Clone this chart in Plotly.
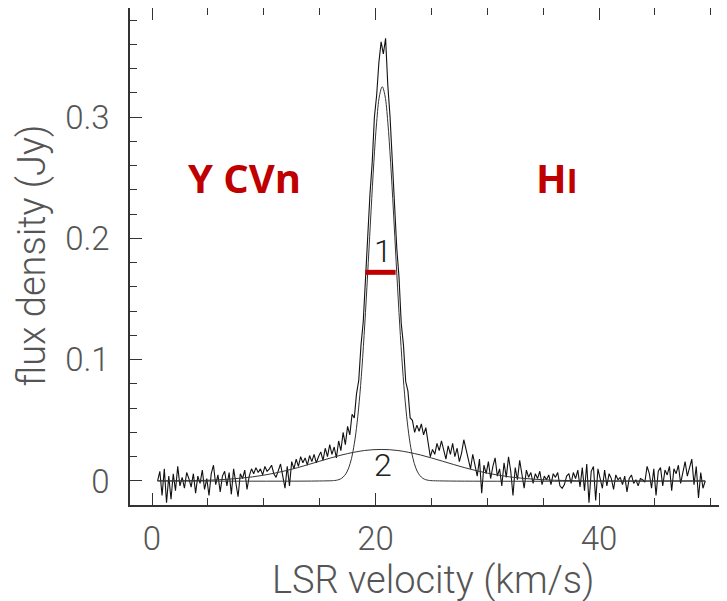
import plotly.graph_objects as go

# ---- spectrum (LSR velocity grid: start + step * channel) ----
v_start = 0.5
v_step = 0.2
flux = [
    0.000, 0.008, -0.012, 0.010, -0.018, 0.004, -0.015, 0.006, -0.008, 0.012,
    -0.004, 0.003, -0.006, 0.007, 0.002, -0.005, 0.006, -0.010, 0.004, -0.002,
    0.009, -0.007, 0.002, -0.012, 0.006, 0.013, -0.003, 0.005, -0.009, 0.004,
    0.008, -0.004, 0.007, -0.011, 0.010, -0.002, -0.013, 0.006, 0.002, 0.009,
    -0.007, 0.004, 0.010, 0.006, 0.011, 0.007, 0.010, 0.005,
    0.012, 0.008, 0.010, 0.013, 0.006, 0.003, 0.009, 0.014, 0.004, -0.006,
    0.012, -0.004, 0.016, 0.010, 0.018, 0.012, 0.020, 0.015, 0.019, 0.013,
    0.021, 0.016, 0.022, 0.015, 0.020,
    0.024, 0.017, 0.027, 0.020, 0.030, 0.022, 0.028, 0.019, 0.033, 0.025,
    0.040, 0.030, 0.045, 0.038, 0.055,
    0.052, 0.072, 0.083, 0.112, 0.131, 0.168, 0.193, 0.236, 0.262, 0.300,
    0.318, 0.345, 0.362, 0.352, 0.365, 0.326, 0.300, 0.262, 0.236, 0.192,
    0.168, 0.130, 0.112, 0.082, 0.074, 0.052, 0.050, 0.040,
    0.046, 0.041, 0.047, 0.038, 0.044, 0.030, 0.020, 0.026, 0.022, 0.031,
    0.025, 0.033, 0.024, 0.018, 0.029, 0.022, 0.031, 0.020, 0.027, 0.016,
    0.023, 0.034, 0.026, 0.019, 0.010, 0.022, 0.014, 0.004, 0.018, -0.010,
    0.013, 0.006, 0.016, 0.002, 0.012, 0.019, 0.004, 0.010, -0.004, 0.015,
    0.003, 0.020, 0.008, -0.012, 0.011, 0.001, 0.017, 0.004, -0.006, 0.009,
    0.003, 0.007, -0.002, 0.006, 0.002, 0.008, -0.003, 0.004, 0.001,
    0.005, -0.003, 0.006, 0.003, 0.007, -0.004, -0.006, -0.003, 0.004, 0.006,
    -0.002, 0.007, 0.002, 0.009, -0.005, 0.011, -0.008, 0.014, -0.018, 0.008,
    0.012, -0.016, 0.010, 0.003, -0.006, 0.009, -0.004, 0.006, 0.002, -0.007,
    0.005, 0.001, 0.003, -0.003, 0.004, -0.009, 0.002, 0.005, -0.002, 0.001,
    -0.004, 0.002, 0.001, -0.001, 0.012, 0.006, -0.006, 0.010, -0.012, 0.008,
    0.011, -0.004, 0.009, 0.005, 0.012, -0.008, 0.010, 0.006, 0.013, -0.002,
    0.008, 0.016, 0.004, 0.010, 0.018, -0.003, 0.012, -0.014, 0.007, -0.006,
    0.000,
]
velocity = [round(v_start + v_step * i, 2) for i in range(len(flux))]

# ---- fitted component 1 (narrow) ----
comp1_v = [0.5, 15.0, 16.35, 16.6, 16.85, 17.1, 17.35, 17.6, 17.85, 18.1, 18.35,
           18.6, 18.85, 19.1, 19.35, 19.6, 19.85, 20.1, 20.35, 20.6, 20.85,
           21.1, 21.35, 21.6, 21.85, 22.1, 22.35, 22.6, 22.85, 23.1, 23.35,
           23.6, 23.85, 24.1, 24.35, 24.6, 24.85, 26.2, 49.5]
comp1_f = [0.0, 0.0, 0.0004, 0.0008, 0.0016, 0.0032, 0.0060, 0.0108, 0.0186,
           0.0306, 0.0479, 0.0715, 0.1019, 0.1388, 0.1800, 0.2226, 0.2627,
           0.2957, 0.3174, 0.325, 0.3174, 0.2957, 0.2627, 0.2226, 0.1800,
           0.1388, 0.1019, 0.0715, 0.0479, 0.0306, 0.0186, 0.0108, 0.0060,
           0.0032, 0.0016, 0.0008, 0.0004, 0.0, 0.0]

# ---- fitted component 2 (broad) ----
comp2_v = [0.5, 3, 5, 7, 9, 11, 13, 15, 17, 19, 20.5, 22, 24, 26, 28, 30, 32,
           34, 36, 38, 40, 43, 49.5]
comp2_f = [0.0001, 0.0002, 0.0006, 0.0016, 0.0034, 0.0065, 0.0109, 0.0163,
           0.0215, 0.0251, 0.026, 0.0251, 0.0215, 0.0163, 0.0109, 0.0065,
           0.0034, 0.0016, 0.0006, 0.0002, 0.0001, 0.0, 0.0]

# ---- labels ----
x_title = "LSR velocity (km/s)"
y_title = "flux density (Jy)"
star_name = "Y CVn"
line_name = "H<span style='font-size:34px'>I</span>"
comp_labels = ["1", "2"]
comp_label_v = [20.66, 20.66]
comp_label_f = [0.190, 0.013]
bar_v = [19.1, 21.8]
bar_f = 0.172

RED = "#C00000"
GREY = "#555555"
AX = "#333333"

fig = go.Figure()
fig.add_trace(go.Scatter(x=velocity, y=flux, mode="lines",
                         line=dict(color="#111111", width=1.1), hoverinfo="skip"))
fig.add_trace(go.Scatter(x=comp1_v, y=comp1_f, mode="lines", line_shape="spline",
                         line=dict(color="#333333", width=1), hoverinfo="skip"))
fig.add_trace(go.Scatter(x=comp2_v, y=comp2_f, mode="lines", line_shape="spline",
                         line=dict(color="#333333", width=1), hoverinfo="skip"))
fig.add_trace(go.Scatter(x=bar_v, y=[bar_f, bar_f], mode="lines",
                         line=dict(color=RED, width=5), hoverinfo="skip"))

tickfont = dict(family="Roboto", size=33, color=GREY, weight=300)
# the page body adds 8 px on the left and top, so the figure is 8 px smaller
fig.update_layout(
    width=719, height=593,
    margin=dict(l=122, r=0, t=0, b=96),
    paper_bgcolor="white", plot_bgcolor="white",
    showlegend=False,
    xaxis=dict(
        range=[-1.97, 51.45], showgrid=False, zeroline=False, automargin=False,
        showline=True, linecolor=AX, linewidth=1.5, mirror="ticks",
        ticks="inside", ticklen=12, tickwidth=1.2, tickcolor=AX,
        tickvals=[0, 20, 40], ticktext=["0", "20", "40"],
        minor=dict(ticks="inside", ticklen=7, dtick=5, tick0=0, tickcolor=AX, tickwidth=1.2),
        tickfont=tickfont, ticklabelstandoff=4,
    ),
    yaxis=dict(
        range=[-0.0198, 0.3899], showgrid=False, zeroline=False, automargin=False,
        showline=True, linecolor=AX, linewidth=1.5, mirror=False,
        ticks="inside", ticklen=12, tickwidth=1.2, tickcolor=AX,
        tickvals=[0, 0.1, 0.2, 0.3], ticktext=["0", "0.1", "0.2", "0.3"],
        minor=dict(ticks="inside", ticklen=7, dtick=0.02, tick0=0, tickcolor=AX, tickwidth=1.2),
        tickfont=tickfont, ticklabelstandoff=12,
    ),
)

fig.add_annotation(xref="paper", yref="paper", x=0.5075, y=0, yshift=-75,
                   text=x_title, showarrow=False, yanchor="middle",
                   font=dict(family="Roboto", size=38, color=GREY, weight=300))
fig.add_annotation(xref="paper", yref="paper", x=0, xshift=-98, y=0.502,
                   text=y_title, showarrow=False, textangle=-90, xanchor="center",
                   font=dict(family="Roboto", size=38, color=GREY, weight=300))
fig.add_annotation(x=8.3, y=0.25, text=star_name, showarrow=False,
                   font=dict(family="Open Sans", size=40, color=RED, weight="bold"))
fig.add_annotation(x=36.2, y=0.25, text=line_name, showarrow=False,
                   font=dict(family="Open Sans", size=40, color=RED, weight="bold"))
for t, xv, yv in zip(comp_labels, comp_label_v, comp_label_f):
    fig.add_annotation(x=xv, y=yv, text=t, showarrow=False,
                       font=dict(family="Roboto", size=32, color="#222222", weight=300))

fig.write_html("out.html")
